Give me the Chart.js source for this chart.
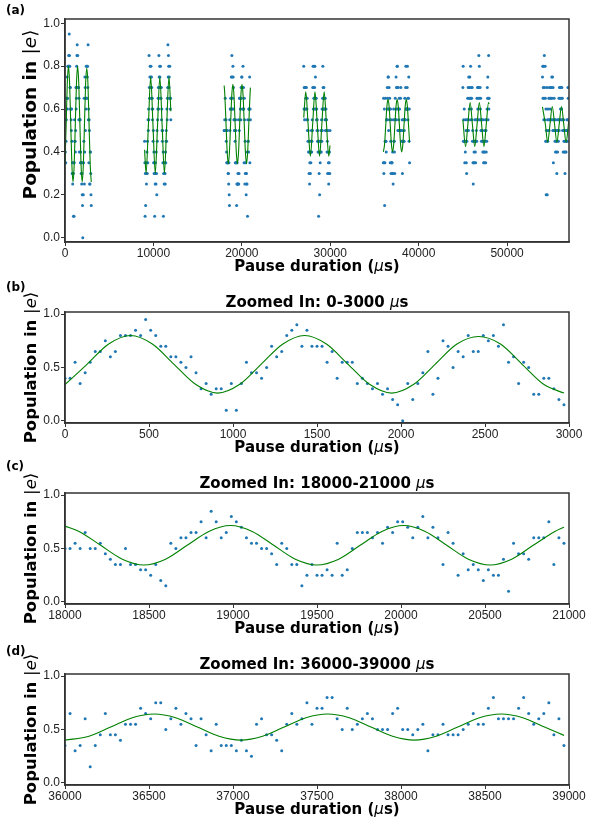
<!DOCTYPE html>
<html>
<head>
<meta charset="utf-8">
<script src="https://cdn.jsdelivr.net/npm/chart.js@4.4.1/dist/chart.umd.min.js"></script>
<style>
html,body{margin:0;padding:0;background:#fff;width:589px;height:825px;overflow:hidden;position:relative;}
canvas{position:absolute;left:0;}
.lbl{position:absolute;left:6px;font:bold 12px "DejaVu Sans";color:#000;line-height:14px;}
</style>
</head>
<body>
<canvas id="ca" width="589" height="280" style="top:0px"></canvas>
<canvas id="cb" width="589" height="181" style="top:280px"></canvas>
<canvas id="cc" width="589" height="183" style="top:461px"></canvas>
<canvas id="cd" width="589" height="181" style="top:644px"></canvas>
<div class="lbl" style="top:3px">(a)</div>
<div class="lbl" style="top:280px">(b)</div>
<div class="lbl" style="top:459px">(c)</div>
<div class="lbl" style="top:644px">(d)</div>
<script>
// ---------------- data ----------------
const sampleStep = 30;               // µs between measurements
const blockStarts = [0, 9000, 18000, 27000, 36000, 45000, 54000];

const pop0to3000 = [
 0.40,0.40,0.55,0.35,0.45,0.55,0.65,0.65,0.75,0.60,
 0.65,0.80,0.80,0.80,0.85,0.80,0.95,0.85,0.80,0.70,
 0.70,0.60,0.60,0.55,0.50,0.60,0.45,0.30,0.35,0.25,
 0.30,0.30,0.10,0.35,0.10,0.35,0.55,0.45,0.45,0.40,
 0.50,0.70,0.60,0.65,0.80,0.85,0.90,0.70,0.85,0.70,
 0.70,0.70,0.55,0.65,0.40,0.55,0.55,0.55,0.35,0.40,
 0.35,0.30,0.35,0.25,0.30,0.20,0.15,0.00,0.35,0.20,
 0.35,0.45,0.65,0.25,0.40,0.75,0.70,0.50,0.65,0.60,
 0.80,0.65,0.65,0.80,0.75,0.80,0.70,0.90,0.55,0.60,
 0.35,0.55,0.50,0.25,0.25,0.40,0.40,0.30,0.20,0.15];
const pop9000to12000 = [
 0.45,0.35,0.10,0.30,0.15,0.30,0.35,0.25,0.30,0.40,
 0.30,0.45,0.35,0.55,0.50,0.60,0.55,0.85,0.70,0.65,
 0.75,0.80,0.70,0.75,0.80,0.65,0.75,0.70,0.60,0.65,
 0.55,0.60,0.45,0.50,0.35,0.40,0.30,0.35,0.10,0.30,
 0.25,0.35,0.30,0.25,0.40,0.30,0.20,0.50,0.45,0.55,
 0.60,0.65,0.70,0.60,0.85,0.75,0.70,0.80,0.75,0.65,
 0.80,0.70,0.65,0.70,0.55,0.60,0.50,0.45,0.50,0.35,
 0.40,0.10,0.30,0.35,0.25,0.30,0.35,0.30,0.25,0.40,
 0.35,0.45,0.50,0.45,0.60,0.55,0.65,0.70,0.90,0.75,
 0.85,0.80,0.70,0.75,0.65,0.80,0.65,0.60,0.65,0.55];
const pop18000to21000 = [
 0.50,0.50,0.55,0.50,0.65,0.50,0.50,0.55,0.45,0.40,
 0.35,0.35,0.50,0.35,0.35,0.30,0.30,0.25,0.35,0.20,
 0.15,0.55,0.50,0.60,0.60,0.65,0.65,0.75,0.60,0.85,
 0.75,0.60,0.65,0.80,0.75,0.70,0.60,0.55,0.55,0.50,
 0.50,0.45,0.35,0.55,0.50,0.35,0.35,0.15,0.25,0.35,
 0.25,0.25,0.30,0.25,0.55,0.25,0.30,0.50,0.65,0.65,
 0.65,0.60,0.65,0.55,0.70,0.65,0.75,0.75,0.70,0.60,
 0.70,0.80,0.60,0.70,0.60,0.35,0.65,0.55,0.25,0.45,
 0.30,0.35,0.30,0.20,0.30,0.25,0.25,0.40,0.10,0.55,
 0.45,0.45,0.40,0.60,0.60,0.60,0.75,0.35,0.60,0.55];
const pop27000to30000 = [
 0.80,0.60,0.70,0.55,0.70,0.60,0.70,0.70,0.65,0.60,
 0.70,0.55,0.60,0.65,0.50,0.55,0.45,0.50,0.40,0.45,
 0.30,0.40,0.25,0.35,0.40,0.30,0.45,0.35,0.40,0.50,
 0.40,0.45,0.55,0.50,0.70,0.80,0.60,0.70,0.65,0.80,
 0.60,0.70,0.80,0.65,0.75,0.65,0.60,0.65,0.55,0.60,
 0.50,0.55,0.45,0.50,0.40,0.45,0.10,0.40,0.30,0.45,
 0.20,0.40,0.35,0.40,0.45,0.50,0.40,0.55,0.45,0.60,
 0.50,0.65,0.80,0.70,0.60,0.65,0.70,0.60,0.65,0.60,
 0.55,0.65,0.50,0.55,0.60,0.50,0.55,0.50,0.40,0.45,
 0.30,0.50,0.40,0.35,0.25,0.30,0.35,0.40,0.30,0.50];
const pop36000to39000 = [
 0.35,0.65,0.30,0.35,0.60,0.15,0.35,0.45,0.65,0.45,
 0.45,0.40,0.55,0.55,0.55,0.70,0.65,0.60,0.75,0.75,
 0.50,0.60,0.70,0.55,0.65,0.60,0.35,0.60,0.45,0.30,
 0.55,0.35,0.35,0.35,0.30,0.40,0.30,0.25,0.55,0.60,
 0.45,0.45,0.40,0.30,0.55,0.65,0.55,0.60,0.75,0.55,
 0.70,0.70,0.80,0.80,0.60,0.50,0.70,0.50,0.55,0.60,
 0.65,0.60,0.50,0.50,0.50,0.65,0.70,0.50,0.50,0.45,
 0.50,0.55,0.30,0.45,0.45,0.55,0.45,0.45,0.45,0.50,
 0.55,0.65,0.55,0.55,0.70,0.80,0.60,0.60,0.60,0.60,
 0.70,0.80,0.65,0.55,0.60,0.65,0.75,0.45,0.60,0.35];
const pop45000to48000 = [
 0.70,0.80,0.45,0.55,0.45,0.60,0.45,0.35,0.45,0.40,
 0.55,0.45,0.50,0.35,0.30,0.45,0.55,0.50,0.65,0.55,
 0.70,0.50,0.75,0.65,0.60,0.70,0.75,0.65,0.55,0.80,
 0.65,0.70,0.60,0.65,0.55,0.70,0.45,0.50,0.35,0.25,
 0.45,0.35,0.40,0.45,0.35,0.55,0.45,0.40,0.35,0.45,
 0.55,0.50,0.45,0.65,0.55,0.70,0.60,0.65,0.70,0.55,
 0.85,0.70,0.80,0.65,0.55,0.70,0.60,0.65,0.50,0.55,
 0.45,0.50,0.55,0.45,0.50,0.40,0.55,0.45,0.35,0.40,
 0.45,0.35,0.40,0.50,0.45,0.55,0.35,0.50,0.40,0.55,
 0.45,0.60,0.70,0.65,0.75,0.55,0.65,0.85,0.60,0.65];
const pop54000to57000 = [
 0.75,0.80,0.65,0.70,0.80,0.55,0.65,0.85,0.70,0.55,
 0.80,0.65,0.45,0.60,0.20,0.50,0.45,0.70,0.20,0.55,
 0.45,0.60,0.50,0.55,0.65,0.50,0.70,0.55,0.65,0.60,
 0.55,0.70,0.65,0.55,0.70,0.75,0.65,0.55,0.75,0.50,
 0.70,0.35,0.50,0.55,0.65,0.50,0.55,0.45,0.50,0.40,
 0.55,0.45,0.50,0.40,0.30,0.45,0.50,0.40,0.55,0.50,
 0.45,0.55,0.65,0.50,0.70,0.55,0.65,0.70,0.60,0.55,
 0.70,0.65,0.60,0.70,0.55,0.65,0.50,0.55,0.40,0.50,
 0.55,0.45,0.50,0.40,0.45,0.30,0.40,0.50,0.45,0.40,
 0.50,0.45,0.55,0.50,0.45,0.55,0.70,0.65,0.55,0.70];
const blockValues = [pop0to3000, pop9000to12000, pop18000to21000, pop27000to30000,
                     pop36000to39000, pop45000to48000, pop54000to57000];

// fitted sinusoid (time in µs, population)
const fitTimes0 = [0,131,260,390,520,649,779,908,1038,1167,1297,1426,1556,1685,1815,1944,2074,2203,2333,2462,2592,2721,2851,2970];
const fitVals0  = [0.34,0.53,0.72,0.80,0.72,0.53,0.34,0.26,0.34,0.53,0.72,0.80,0.72,0.53,0.34,0.26,0.34,0.53,0.72,0.79,0.72,0.53,0.34,0.26];
const fitTimes1 = [9000,9173,9432,9690,9949,10208,10466,10725,10984,11243,11501,11760,11970];
const fitVals1  = [0.41,0.30,0.525,0.75,0.525,0.30,0.525,0.75,0.525,0.30,0.525,0.75,0.59];
const fitTimes2 = [18000,18084,18212,18341,18470,18599,18727,18856,18985,19114,19242,19371,19500,19629,19757,19886,20015,20144,20272,20401,20530,20659,20787,20916,20970];
const fitVals2  = [0.71,0.66,0.53,0.40,0.345,0.40,0.53,0.66,0.715,0.66,0.53,0.40,0.345,0.40,0.53,0.66,0.715,0.66,0.53,0.40,0.345,0.40,0.53,0.66,0.70];
const fitTimes3 = [27000,27230,27490,27750,28010,28270,28530,28790,29050,29310,29570,29830,29970];
const fitVals3  = [0.56,0.68,0.53,0.38,0.53,0.68,0.53,0.38,0.53,0.68,0.53,0.38,0.43];
const fitTimes4 = [36000,36143,36272,36401,36530,36659,36788,36917,37046,37176,37305,37434,37563,37692,37821,37950,38080,38209,38338,38467,38596,38725,38854,38970];
const fitVals4  = [0.40,0.436,0.523,0.61,0.645,0.61,0.523,0.436,0.40,0.436,0.523,0.61,0.645,0.61,0.523,0.436,0.40,0.436,0.523,0.61,0.645,0.61,0.523,0.445];
const fitTimes5 = [45000,45300,45560,45820,46080,46340,46600,46860,47120,47380,47640,47900,47970];
const fitVals5  = [0.55,0.425,0.527,0.63,0.527,0.425,0.527,0.63,0.527,0.425,0.527,0.63,0.625];
const fitTimes6 = [54000,54330,54590,54850,55110,55370,55630,55890,56150,56410,56670,56930,56970];
const fitVals6  = [0.61,0.528,0.445,0.528,0.612,0.528,0.445,0.528,0.612,0.528,0.445,0.528,0.545];
const fitTimes = [fitTimes0, fitTimes1, fitTimes2, fitTimes3, fitTimes4, fitTimes5, fitTimes6];
const fitVals  = [fitVals0, fitVals1, fitVals2, fitVals3, fitVals4, fitVals5, fitVals6];

const xTicksFull = [0, 10000, 20000, 30000, 40000, 50000];
const yTicksFull = [0.0, 0.2, 0.4, 0.6, 0.8, 1.0];
const yTicksZoom = [0.0, 0.5, 1.0];
// text pieces: [text, style]  b = bold, r = regular, i = italic (math)
const xLabelParts = [['Pause duration (', 'b'], ['\u03bc', 'i'], ['s)', 'b']];
const yLabelParts = [['Population in ', 'b'], ['|', 'r'], ['e', 'i'], ['\u27e9', 'r']];
const zoomTitleParts = [
  [['Zoomed In: 0-3000 ', 'b'], ['\u03bc', 'i'], ['s', 'b']],
  [['Zoomed In: 18000-21000 ', 'b'], ['\u03bc', 'i'], ['s', 'b']],
  [['Zoomed In: 36000-39000 ', 'b'], ['\u03bc', 'i'], ['s', 'b']]
];

// ---------------- helpers ----------------
const C_PTS = '#1f77b4', C_FIT = '#008000', C_AX = '#333333';
const tickFont = {family: 'Liberation Sans', size: 12};
const LABEL_SIZE = 15;
function cssFont(style, size) {
  const fam = '"DejaVu Sans"';
  if (style === 'b') return 'bold ' + size + 'px ' + fam;
  if (style === 'i') return 'italic ' + size + 'px ' + fam;
  return size + 'px ' + fam;
}
function drawRich(ctx, parts, cx, cy, rotate, size) {
  ctx.save();
  const widths = parts.map(([t, s]) => { ctx.font = cssFont(s, size); return ctx.measureText(t).width; });
  const total = widths.reduce((a, w) => a + w, 0);
  ctx.translate(cx, cy);
  if (rotate) ctx.rotate(-Math.PI / 2);
  ctx.textBaseline = 'middle'; ctx.textAlign = 'left'; ctx.fillStyle = '#000';
  let x = -total / 2;
  parts.forEach(([t, s], k) => { ctx.font = cssFont(s, size); ctx.fillText(t, x, 0); x += widths[k]; });
  ctx.restore();
}

function scatterData(b) {
  return blockValues[b].map((v, i) => ({x: blockStarts[b] + i * sampleStep, y: v}));
}
function fitData(b) {
  return fitTimes[b].map((t, k) => ({x: t, y: fitVals[b][k]}));
}
function pointsDataset(data) {
  return {type: 'scatter', data, pointRadius: 1.5, pointBackgroundColor: C_PTS,
          pointBorderWidth: 0, showLine: false, order: 2};
}
function fitDataset(data) {
  return {type: 'scatter', data, showLine: true, pointRadius: 0, borderColor: C_FIT,
          borderWidth: 1.1, cubicInterpolationMode: 'monotone', order: 1};
}

function decorPlugin(titleParts, ySize, yShift) {
  return {
    id: 'decor',
    afterDraw(chart) {
      const {ctx, chartArea: a} = chart;
      ctx.save();
      ctx.strokeStyle = C_AX; ctx.lineWidth = 1.5;
      ctx.strokeRect(a.left, a.top, a.right - a.left, a.bottom - a.top);
      ctx.restore();
      const cx = (a.left + a.right) / 2;
      drawRich(ctx, xLabelParts, cx, a.bottom + 25.5, false, LABEL_SIZE);
      drawRich(ctx, yLabelParts, 31.5, (a.top + a.bottom) / 2 + yShift, true, ySize);
      if (titleParts) drawRich(ctx, titleParts, cx, a.top - 9, false, LABEL_SIZE);
    }
  };
}

function makeOptions(p) {
  return {
    responsive: false, animation: false, events: [],
    layout: {padding: {left: 0, right: 20, top: p.padTop, bottom: 0}},
    plugins: {legend: {display: false}, tooltip: {enabled: false}, title: {display: false}},
    scales: {
      x: {
        type: 'linear', min: p.xmin, max: p.xmax,
        afterFit: s => { s.height = p.xh; },
        afterBuildTicks: s => { s.ticks = p.xticks.map(v => ({value: v})); },
        ticks: {font: tickFont, color: '#222', padding: 0, maxRotation: 0, autoSkip: false,
                callback: v => String(v)},
        grid: {display: true, drawOnChartArea: false, drawTicks: true, tickLength: 4,
               tickColor: C_AX, tickWidth: 1},
        border: {display: true, color: C_AX, width: 1.5},
        title: {display: false}
      },
      y: {
        type: 'linear', min: -0.02, max: 1.02,
        afterFit: s => { s.width = 65; },
        afterBuildTicks: s => { s.ticks = p.yticks.map(v => ({value: v})); },
        ticks: {font: tickFont, color: '#222', padding: 1, autoSkip: false,
                callback: v => Number(v).toFixed(1)},
        grid: {display: true, drawOnChartArea: false, drawTicks: true, tickLength: 4,
               tickColor: C_AX, tickWidth: 1},
        border: {display: true, color: C_AX, width: 1.5},
        title: {display: false}
      }
    }
  };
}

// ---------------- panel (a): full record ----------------
const allPoints = [];
blockStarts.forEach((s, b) => allPoints.push(...scatterData(b)));
new Chart(document.getElementById('ca'), {
  type: 'scatter',
  data: {datasets: [pointsDataset(allPoints), ...blockStarts.map((s, b) => fitDataset(fitData(b)))]},
  options: makeOptions({padTop: 19, xmin: 0, xmax: 57000, xticks: xTicksFull, xh: 38,
                        yticks: yTicksFull}),
  plugins: [decorPlugin(null, 18.5, -16)]
});

// ---------------- zoomed panels ----------------
const zoomPanels = [
  {id: 'cb', block: 0, padTop: 32, xh: 38},
  {id: 'cc', block: 2, padTop: 32, xh: 40},
  {id: 'cd', block: 4, padTop: 30, xh: 40}
];
zoomPanels.forEach((zp, k) => {
  const start = blockStarts[zp.block];
  const xt = [0, 500, 1000, 1500, 2000, 2500, 3000].map(d => start + d);
  new Chart(document.getElementById(zp.id), {
    type: 'scatter',
    data: {datasets: [pointsDataset(scatterData(zp.block)), fitDataset(fitData(zp.block))]},
    options: makeOptions({padTop: zp.padTop, xmin: start, xmax: start + 3000, xticks: xt,
                          xh: zp.xh, yticks: yTicksZoom}),
    plugins: [decorPlugin(zoomTitleParts[k], 16.5, 0)]
  });
});
</script>
</body>
</html>
